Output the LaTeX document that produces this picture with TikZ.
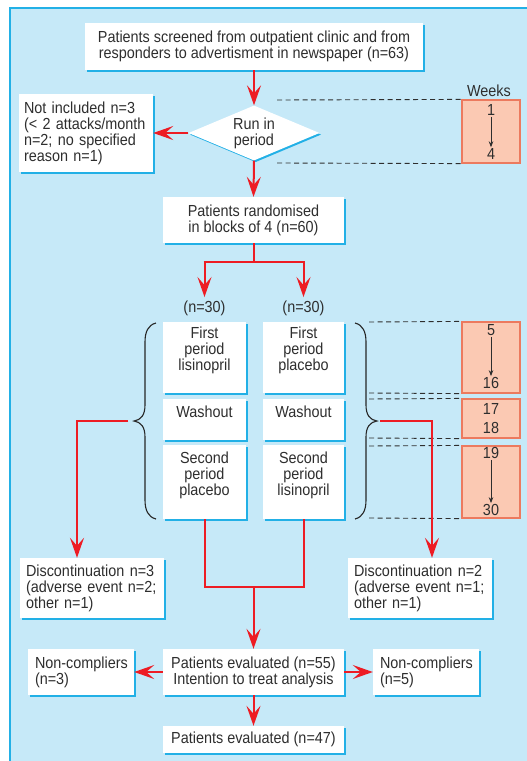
\documentclass[tikz,border=0pt]{standalone}
\usepackage{fontspec}
\setmainfont[FakeStretch=0.9]{Liberation Sans}
\usetikzlibrary{arrows.meta,shadows,shapes.geometric}
\definecolor{bgblue}{HTML}{C6E9F8}
\definecolor{edgeblue}{HTML}{22B0E6}
\definecolor{redc}{HTML}{ED1C24}
\definecolor{textc}{HTML}{2E2E2E}
\definecolor{wkfill}{HTML}{FBC9B3}
\definecolor{wkedge}{HTML}{EC7A5F}
\begin{document}
\begin{tikzpicture}[x=1pt,y=-1pt,
  every node/.style={text=textc,font=\fontsize{16}{16}\selectfont},
  box/.style={fill=white,inner sep=0pt,align=center,
    drop shadow={shadow xshift=1.6pt,shadow yshift=-1.6pt,fill=edgeblue,opacity=1}},
  lbox/.style={box,align=left},
  wk/.style={fill=wkfill,draw=wkedge,line width=1.2pt,inner sep=0pt},
  wline/.style={dash pattern=on 5pt off 3.5pt,line width=0.9pt,draw=textc},
  rarr/.style={draw=redc,line width=2pt,-{Stealth[length=20pt,width=14pt,inset=8pt]}},
  rline/.style={draw=redc,line width=2pt},
  karr/.style={draw=textc,line width=0.8pt,-{Stealth[length=6pt,width=4.5pt]}},
  brace/.style={draw=black!85,line width=1.1pt},
  ptext/.style={align=center,anchor=north,inner sep=0pt}
]
\useasboundingbox (0,0) rectangle (527,761);
\fill[white] (0,0) rectangle (527,761);
\draw[fill=bgblue,draw=edgeblue,line width=1.4pt] (10,8) rectangle (540,775);

% main boxes
\node[box,minimum width=338,minimum height=47] (top) at (254,46.5)
  {Patients screened from outpatient clinic and from\\responders to advertisment in newspaper (n=63)};
\node[diamond,fill=white,inner sep=0pt,minimum width=131,minimum height=55,
  drop shadow={shadow xshift=1.6pt,shadow yshift=-1.6pt,fill=edgeblue,opacity=1}] (run) at (254,133) {};
\node[align=center] at (run.center) {Run in\\period};
\node[lbox,minimum width=134,minimum height=78,text width=124] (notinc) at (86,133)
  {Not included n=3\\(\textless{} 2 attacks/month\\n=2; no specified\\reason n=1)};
\node[box,minimum width=181,minimum height=46] (rand) at (253.5,220)
  {Patients randomised\\in blocks of 4 (n=60)};
\node (n1) at (204.5,308) {(n=30)};
\node (n2) at (303.5,308) {(n=30)};

% period boxes
\node[box,minimum width=83,minimum height=71] (fp1) at (204.5,357.5) {};
\node[box,minimum width=81,minimum height=71] (fp2) at (303.5,357.5) {};
\node[box,minimum width=83,minimum height=41] (wo1) at (204.5,419.5) {};
\node[box,minimum width=81,minimum height=41] (wo2) at (303.5,419.5) {};
\node[box,minimum width=83,minimum height=74] (sp1) at (204.5,482) {};
\node[box,minimum width=81,minimum height=74] (sp2) at (303.5,482) {};
\node[ptext] at ([yshift=-5]fp1.north) {First\\period\\lisinopril};
\node[ptext] at ([yshift=-5]fp2.north) {First\\period\\placebo};
\node[ptext] at ([yshift=-7]wo1.north) {Washout};
\node[ptext] at ([yshift=-7]wo2.north) {Washout};
\node[ptext] at ([yshift=-7]sp1.north) {Second\\period\\placebo};
\node[ptext] at ([yshift=-7]sp2.north) {Second\\period\\lisinopril};

\node[lbox,minimum width=144,minimum height=60,text width=132] (dis1) at (92,588)
  {Discontinuation n=3\\(adverse event n=2;\\other n=1)};
\node[lbox,minimum width=144,minimum height=60,text width=132] (dis2) at (420,588)
  {Discontinuation n=2\\(adverse event n=1;\\other n=1)};
\node[box,minimum width=181,minimum height=46] (eval) at (253.5,672)
  {Patients evaluated (n=55)\\Intention to treat analysis};
\node[lbox,minimum width=106,minimum height=46,text width=92] (nc1) at (81,672)
  {\mbox{Non-compliers}\\(n=3)};
\node[lbox,minimum width=106,minimum height=46,text width=92] (nc2) at (426,672)
  {\mbox{Non-compliers}\\(n=5)};
\node[box,minimum width=181,minimum height=27] (final) at (253.5,739.5)
  {Patients evaluated (n=47)};

% braces
\draw[brace] (156,323) .. controls (148,325) and (145,332) .. (145,342) -- (145,405)
  .. controls (145,415) and (141,420) .. (134,421) .. controls (141,422) and (145,427) .. (145,437)
  -- (145,500) .. controls (145,510) and (148,517) .. (156,519);
\draw[brace] (355,323) .. controls (363,325) and (366,332) .. (366,342) -- (366,405)
  .. controls (366,415) and (370,420) .. (377,421) .. controls (370,422) and (366,427) .. (366,437)
  -- (366,500) .. controls (366,510) and (363,517) .. (355,519);
\coordinate (bl) at (128,421);
\coordinate (br) at (380,421);

% weeks
\node (weeks) at (489,91) {Weeks};
\node[wk,minimum width=58,minimum height=63] (w1) at (491,131.5) {};
\node[wk,minimum width=58,minimum height=71] (w2) at (491,357.5) {};
\node[wk,minimum width=58,minimum height=39] (w3) at (491,418.5) {};
\node[wk,minimum width=58,minimum height=72] (w4) at (491,482) {};
\node[inner sep=1pt] (a1) at (491,110) {1};
\node[inner sep=1pt] (b1) at (491,154) {4};
\draw[karr] (a1.south) -- (b1.north);
\node[inner sep=1pt] (a2) at (491,330) {5};
\node[inner sep=1pt] (b2) at (491,383) {16};
\draw[karr] (a2.south) -- (b2.north);
\node at (491,409) {17};
\node at (491,428) {18};
\node[inner sep=1pt] (a4) at (491,453) {19};
\node[inner sep=1pt] (b4) at (491,510) {30};
\draw[karr] (a4.south) -- (b4.north);

\draw[wline] (277,100) -- (w1.north west);
\draw[wline] (277,163) -- (w1.south west);
\draw[wline] (369,322) -- (w2.north west);
\draw[wline] (369,393) -- (w2.south west);
\draw[wline] (369,399) -- (w3.north west);
\draw[wline] (369,438) -- (w3.south west);
\draw[wline] (369,446) -- (w4.north west);
\draw[wline] (369,518) -- (w4.south west);

% red connectors
\draw[rarr] (top.south) -- (run.north);
\draw[rarr] (run.west) -- (notinc.east);
\draw[rarr] (run.south) -- (rand.north);
\draw[rline] (rand.south) -- (253.5,262);
\draw[rarr] (204.5,262) -- (n1.north);
\draw[rarr] (303.5,262) -- (n2.north);
\draw[rline] (203.5,262) -- (304.5,262);
\draw[rarr] (bl) -| (dis1.north -| 77,0);
\draw[rarr] (br) -| (dis2.north -| 432,0);
\draw[rline] (sp1.south) -- (204.5,587) -- (303.5,587) -- (sp2.south);
\draw[rarr] (253.5,587) -- (eval.north);
\draw[rarr] (eval.west) -- (nc1.east);
\draw[rarr] (eval.east) -- (nc2.west);
\draw[rarr] (eval.south) -- (final.north);
\end{tikzpicture}
\end{document}
